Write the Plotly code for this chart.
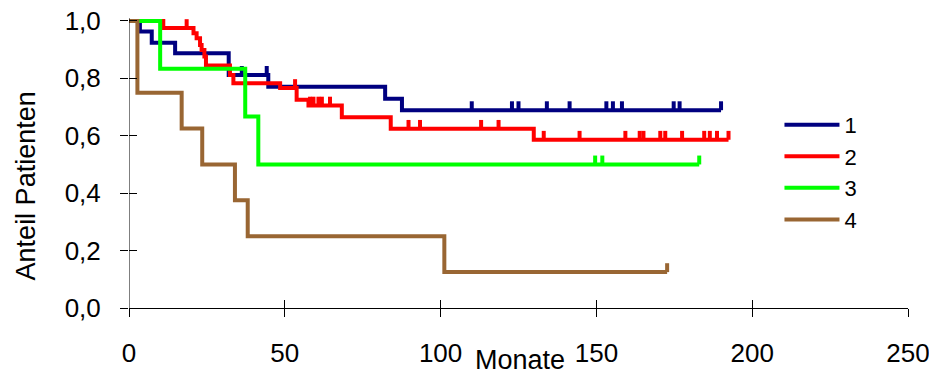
import numpy as np
import plotly.graph_objects as go

# ---- data ----
group_names = ["1", "2", "3", "4"]
group_colors = ["#000080", "#FF0000", "#00FF00", "#996633"]

g1_times = [0, 3.5, 7.3, 14.8, 32.0, 44.7, 82.2, 87.6, 190.0]
g1_surv = [1.0, 0.963, 0.924, 0.887, 0.812, 0.771, 0.729, 0.689, 0.689]
g1_cens = [36.2, 44.2, 110.0, 122.9, 125.0, 134.1, 141.4, 153.2, 155.3, 158.2, 174.8, 176.7, 190.0]

g2_times = [0, 11.0, 20.7, 21.7, 22.8, 23.3, 24.2, 24.7, 32.4, 33.5, 48.5, 53.8, 57.6, 68.3, 84.0, 129.9, 192.4]
g2_surv = [1.0, 0.975, 0.957, 0.940, 0.916, 0.899, 0.876, 0.845, 0.812, 0.783, 0.766, 0.725, 0.705, 0.664, 0.624, 0.586, 0.586]
g2_cens = [18.5, 53.3, 58.1, 59.2, 60.8, 61.9, 64.5, 89.7, 93.4, 113.0, 118.6, 133.1, 144.6, 159.3,
           163.9, 165.1, 170.5, 172.1, 177.5, 184.6, 186.4, 188.7, 192.4]

g3_times = [0, 10.0, 37.3, 41.5, 183.0]
g3_surv = [1.0, 0.833, 0.667, 0.5, 0.5]
g3_cens = [149.6, 151.9, 183.0]

g4_times = [0, 2.7, 16.9, 23.5, 34.0, 38.1, 101.2, 172.7]
g4_surv = [1.0, 0.75, 0.625, 0.5, 0.375, 0.25, 0.125, 0.125]
g4_cens = [172.7]

x_ticks = [0, 50, 100, 150, 200, 250]
y_ticks = [0.0, 0.2, 0.4, 0.6, 0.8, 1.0]
y_ticktext = ["0,0", "0,2", "0,4", "0,6", "0,8", "1,0"]
x_title = "Monate"
y_title = "Anteil Patienten"

groups = [
    (g1_times, g1_surv, g1_cens),
    (g2_times, g2_surv, g2_cens),
    (g3_times, g3_surv, g3_cens),
    (g4_times, g4_surv, g4_cens),
]

CENS_H = 0.031
LW = 4
FONT = "Liberation Sans, Arial, sans-serif"

fig = go.Figure()
for (times, surv, cens), name, col in zip(groups, group_names, group_colors):
    fig.add_trace(go.Scatter(x=times, y=surv, mode="lines", line=dict(color=col, width=LW, shape="hv"),
                             name=name))
    t_arr = np.array(times)
    s_arr = np.array(surv)
    cx, cy = [], []
    for c in cens:
        idx = np.searchsorted(t_arr, c, side="right") - 1
        s = s_arr[idx]
        cx += [c, c, None]
        cy += [s, s + CENS_H, None]
    fig.add_trace(go.Scatter(x=cx, y=cy, mode="lines", line=dict(color=col, width=LW),
                             showlegend=False, hoverinfo="skip"))

# invisible trace for overlay axes (inner half of crossing ticks)
fig.add_trace(go.Scatter(x=[0], y=[0], xaxis="x2", yaxis="y2", mode="markers",
                         marker=dict(opacity=0), showlegend=False, hoverinfo="skip"))

YMAX = 1.038
fig.update_layout(
    width=929, height=374,
    margin=dict(l=129, r=21, t=10, b=66, autoexpand=False),
    paper_bgcolor="white", plot_bgcolor="white",
    font=dict(family=FONT, size=22, color="#000"),
    showlegend=True,
    legend=dict(x=0.835, y=0.685, xanchor="left", yanchor="top", xref="paper", yref="paper",
                font=dict(size=22), itemwidth=55, tracegroupgap=0, bgcolor="rgba(0,0,0,0)"),
    xaxis=dict(range=[0, 250], tickvals=x_ticks, ticks="outside", ticklen=8, tickcolor="#000",
               showline=True, linecolor="#000", linewidth=1, showgrid=False, zeroline=False,
               tickfont=dict(size=26), ticklabelstandoff=14, ticklabeloverflow="allow",
               automargin=False),
    yaxis=dict(range=[0, YMAX], tickvals=y_ticks, ticktext=y_ticktext, ticks="outside", ticklen=8,
               tickcolor="#000", showline=False, showgrid=False, automargin=False,
               zeroline=False, tickfont=dict(size=26), ticklabelstandoff=14),
    xaxis2=dict(range=[0, 250], tickvals=x_ticks, ticks="inside", ticklen=8, tickcolor="#000",
                overlaying="x", anchor="y2", showticklabels=False, showline=False, showgrid=False,
                zeroline=False, automargin=False),
    yaxis2=dict(range=[0, YMAX], tickvals=y_ticks, ticks="inside", ticklen=8, tickcolor="#000",
                overlaying="y", anchor="x2", showticklabels=False, showline=False, showgrid=False,
                zeroline=False, automargin=False),
    shapes=[dict(type="line", xref="x", yref="y", x0=0, x1=0, y0=0, y1=1.01,
                 line=dict(color="#000", width=1), layer="above")],
    annotations=[
        dict(text=x_title, xref="paper", yref="paper", x=0.502, y=0, yanchor="top", xanchor="center",
             yshift=-35, showarrow=False, font=dict(size=27)),
        dict(text=y_title, xref="paper", yref="paper", x=0, y=0.408, xanchor="center", yanchor="middle",
             xshift=-103, textangle=-90, showarrow=False, font=dict(size=27)),
    ],
)

fig.write_html("out.html")
